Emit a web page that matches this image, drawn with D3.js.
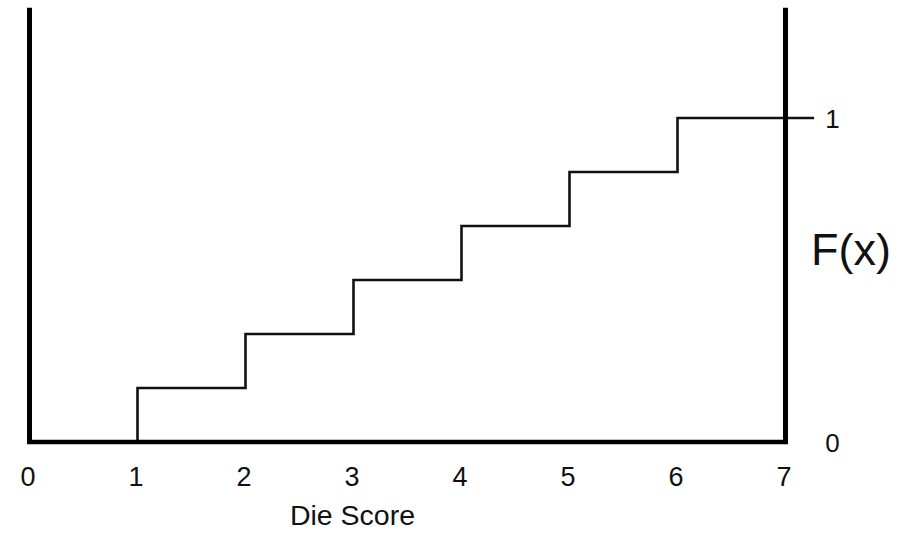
<!DOCTYPE html>
<html><head><meta charset="utf-8">
<script src="https://cdn.jsdelivr.net/npm/d3@7"></script>
<style>body{margin:0;background:#fff}svg{display:block}text{font-family:"Liberation Sans",Arial,Helvetica,sans-serif;fill:#111}</style>
</head><body>
<script>
const scores = [1, 2, 3, 4, 5, 6];
const cdf = [1/6, 2/6, 3/6, 4/6, 5/6, 1];
const xTicks = [0, 1, 2, 3, 4, 5, 6, 7];
const yTicks = [0, 1];
const xLabel = "Die Score";
const yLabel = "F(x)";
const yTop = 1.34;
const xEnd = 7.265;

const W = 898, H = 536;
const svg = d3.select("body").append("svg").attr("width", W).attr("height", H);
const x = d3.scaleLinear().domain([0, 7]).range([29.5, 785.5]);
const y = d3.scaleLinear().domain([0, 1]).range([442, 118]);

// step function
const pts = [{x: scores[0], y: 0}];
scores.forEach((s, i) => pts.push({x: s, y: cdf[i]}));
pts.push({x: xEnd, y: cdf[cdf.length - 1]});
svg.append("path").datum(pts)
  .attr("fill", "none").attr("stroke", "#111").attr("stroke-width", 2.6)
  .attr("stroke-linejoin", "miter")
  .attr("d", d3.line().x(d => x(d.x)).y(d => y(d.y)).curve(d3.curveStepAfter));

// frame: left and right verticals
const frame = svg.append("g").attr("stroke", "#000").attr("fill", "none");
frame.append("line").attr("x1", x(0)).attr("x2", x(0)).attr("y1", y(yTop)).attr("y2", y(0) + 1.5).attr("stroke-width", 5);
frame.append("line").attr("x1", x(7)).attr("x2", x(7)).attr("y1", y(yTop)).attr("y2", y(0) + 1.5).attr("stroke-width", 5);

// bottom axis
const xAxis = svg.append("g").attr("transform", `translate(0,${y(0)})`)
  .call(d3.axisBottom(x).tickValues(xTicks).tickSize(0).tickSizeOuter(0).tickFormat(d3.format("d")));
xAxis.select(".domain").attr("stroke", "#000").attr("stroke-width", 4.5)
  .attr("d", `M${x(0) - 2.5},0H${x(7) + 2.5}`);
xAxis.selectAll(".tick text").attr("y", 43.5).attr("dy", 0).attr("dx", -2)
  .style("font-size", "27px").attr("fill", "#111");

// right axis labels
const yAxis = svg.append("g").attr("transform", `translate(${x(7)},0)`)
  .call(d3.axisRight(y).tickValues(yTicks).tickSize(0).tickFormat(d3.format("d")));
yAxis.select(".domain").remove();
yAxis.selectAll(".tick text").attr("x", 47).attr("text-anchor", "middle").attr("dy", "0.36em")
  .style("font-size", "26px").attr("fill", "#222");

// labels
svg.append("text").attr("x", x(3) - 1).attr("y", 525).attr("text-anchor", "middle")
  .style("font-size", "28.5px").text(xLabel);
svg.append("text").attr("x", 811).attr("y", 265).attr("text-anchor", "start")
  .style("font-size", "45px").text(yLabel);
</script>
</body></html>
